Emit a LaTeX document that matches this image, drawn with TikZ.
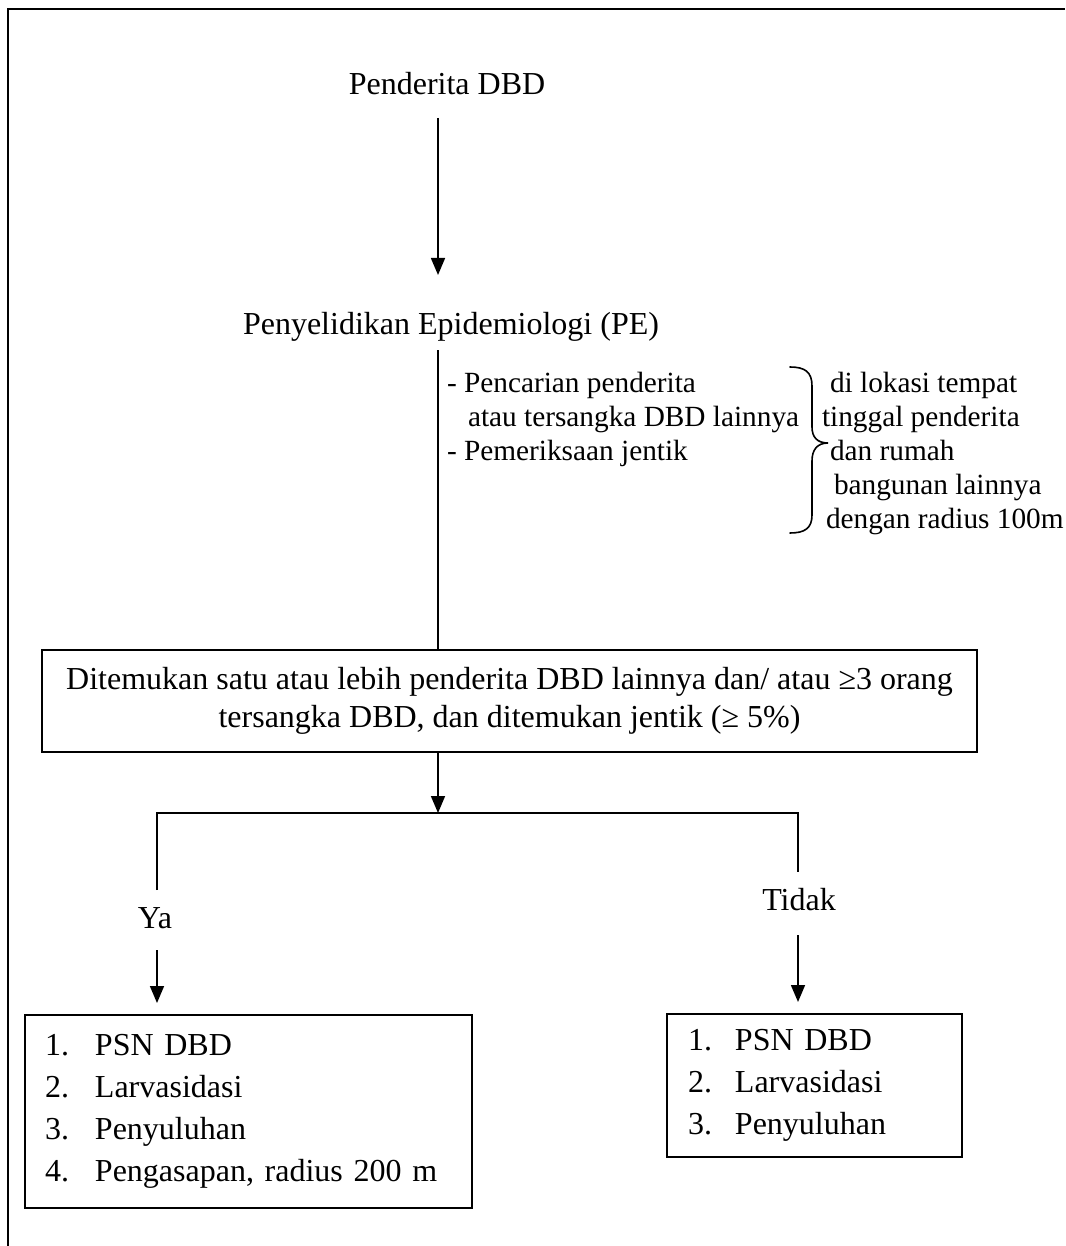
\documentclass[tikz,border=0pt]{standalone}
\usepackage{fontspec}
\setmainfont{Liberation Serif}
\usetikzlibrary{arrows.meta}
\begin{document}
\begin{tikzpicture}[x=1pt,y=-1pt,
  every node/.style={inner sep=0pt, outer sep=0pt},
  big/.style={font=\fontsize{32}{42}\selectfont},
  small/.style={font=\fontsize{29.3}{34}\selectfont},
  conn/.style={line width=1.6pt},
  arr/.style={line width=1.6pt, -{Triangle[length=17pt,width=14pt]}},
  box/.style={draw, line width=1.6pt},
  bracestyle/.style={line width=1.6pt, line cap=round}]
\useasboundingbox (0,0) rectangle (1065,1246);
% outer frame (only top and left visible)
\draw[line width=2.2pt] (8,1246) -- (8,9) -- (1065,9);

% titles
\node[big, anchor=base] (pd) at (447,95) {Penderita DBD};
\node[big, anchor=base] (pe) at (451,334) {Penyelidikan Epidemiologi (PE)};

% spine coordinates
\coordinate (a1s) at (438,118);
\coordinate (a1e) at (438,275);
\coordinate (s1) at (438,350);
\draw[arr] (a1s) -- (a1e);

% activities
\node[small, anchor=base west] (l1) at (447,392) {- Pencarian penderita};
\node[small, anchor=base west] (l2) at (468,426) {atau tersangka DBD lainnya};
\node[small, anchor=base west] (l3) at (447,460) {- Pemeriksaan jentik};

\node[small, anchor=base west] (r1) at (830,392) {di lokasi tempat};
\node[small, anchor=base west] (r2) at (822,426) {tinggal penderita};
\node[small, anchor=base west] (r3) at (830,460) {dan rumah};
\node[small, anchor=base west] (r4) at (834,494) {bangunan lainnya};
\node[small, anchor=base west] (r5) at (826,528) {dengan radius 100m};

% brace
\draw[bracestyle] (790,367) .. controls (805,367) and (812,372) .. (812,386)
  -- (812,427) .. controls (812,437) and (817,443) .. (828,443)
  .. controls (817,443) and (812,450) .. (812,461)
  -- (812,515) .. controls (812,528) and (805,533) .. (790,533);

% condition box
\node[box, big, minimum width=935pt, minimum height=102pt, align=center,
      font=\fontsize{32}{38}\selectfont] (cond) at (509.5,701)
  {Ditemukan satu atau lebih penderita DBD lainnya dan/ atau ≥3 orang\\
   tersangka DBD, dan ditemukan jentik (≥ 5\%)};

\draw[conn] (s1) -- (cond.north -| s1);

% split
\coordinate (split) at (438,813);
\coordinate (ya top) at (157,813);
\coordinate (td top) at (798,813);
\coordinate (ya end) at (157,890);
\coordinate (td end) at (798,872);
\draw[arr] (cond.south -| split) -- (split);
\draw[conn] (ya end) -- (ya top) -- (td top) -- (td end);

\node[big] (ya) at (155,918) {Ya};
\node[big] (td) at (799,900) {Tidak};

% result boxes
\node[box, big, anchor=north west, minimum width=447pt, minimum height=193pt,
      text width=407pt, inner xsep=20pt, align=left] (lbox) at (25,1015)
  {\makebox[50pt][l]{1.}PSN DBD\\
   \makebox[50pt][l]{2.}Larvasidasi\\
   \makebox[50pt][l]{3.}Penyuluhan\\
   \makebox[50pt][l]{4.}Pengasapan, radius 200 m};
\node[box, big, anchor=north west, minimum width=274pt, minimum height=143pt,
      text width=253pt, inner xsep=21pt, align=left] (rbox) at (667,1014)
  {\makebox[47pt][l]{1.}PSN DBD\\
   \makebox[47pt][l]{2.}Larvasidasi\\
   \makebox[47pt][l]{3.}Penyuluhan};

\coordinate (ya arr) at (157,950);
\coordinate (td arr) at (798,935);
\draw[arr, shorten >=12pt] (ya arr) -- (lbox.north -| ya arr);
\draw[arr, shorten >=12pt] (td arr) -- (rbox.north -| td arr);
\end{tikzpicture}
\end{document}
